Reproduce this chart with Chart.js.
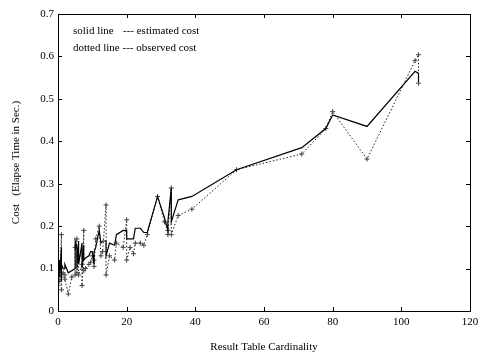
<!DOCTYPE html>
<html>
<head>
<meta charset="utf-8">
<script src="https://cdn.jsdelivr.net/npm/chart.js@4/dist/chart.umd.min.js"></script>
<style>
  body { margin: 0; background: #fff; }
  canvas { display: block; }
</style>
</head>
<body>
<canvas id="chart" width="478" height="356"></canvas>
<script>
// result table cardinality (x), estimated and observed cost (sec.)
const cardinality = [0, 0, 0, 0, 0.5, 0.5, 1, 1, 1, 1.5, 2, 2, 3, 4, 5, 5, 5.5, 5.5, 6, 6,
  7, 7, 7.5, 7.5, 8, 9, 9.5, 10, 10.5, 10.5, 11, 12, 12.5, 13, 14, 14, 15, 16.5, 17, 19,
  20, 20, 21, 22, 22.5, 24, 25, 26, 29, 31, 32, 32, 33, 33, 35, 39, 52, 71, 78, 80,
  90, 104, 105, 105];
const estimated = [0.07, 0.08, 0.10, 0.09, 0.12, 0.08, 0.15, 0.07, 0.11, 0.10, 0.10, 0.11, 0.09, 0.095, 0.10, 0.165, 0.15, 0.10, 0.165, 0.11,
  0.16, 0.10, 0.155, 0.12, 0.125, 0.13, 0.14, 0.14, 0.11, 0.14, 0.15, 0.19, 0.16, 0.165, 0.165, 0.13, 0.16, 0.155, 0.18, 0.19,
  0.19, 0.17, 0.17, 0.17, 0.195, 0.195, 0.185, 0.185, 0.27, 0.22, 0.19, 0.21, 0.29, 0.21, 0.262, 0.27, 0.333, 0.385, 0.43, 0.462,
  0.435, 0.565, 0.56, 0.54];
const observed = [0.06, 0.09, 0.075, 0.11, 0.10, 0.07, 0.18, 0.05, 0.08, 0.09, 0.085, 0.075, 0.04, 0.08, 0.085, 0.15, 0.17, 0.09, 0.13, 0.085,
  0.11, 0.06, 0.19, 0.095, 0.10, 0.11, 0.115, 0.13, 0.12, 0.105, 0.17, 0.20, 0.13, 0.14, 0.25, 0.085, 0.13, 0.12, 0.16, 0.15,
  0.215, 0.12, 0.15, 0.135, 0.16, 0.16, 0.155, 0.18, 0.27, 0.21, 0.19, 0.18, 0.29, 0.18, 0.225, 0.24, 0.333, 0.37, 0.43, 0.47,
  0.358, 0.59, 0.604, 0.537];
const xTicks = [0, 20, 40, 60, 80, 100, 120];
const yTicks = [0, 0.1, 0.2, 0.3, 0.4, 0.5, 0.6, 0.7];

Chart.defaults.font.family = '"Liberation Serif", "DejaVu Serif", serif';
Chart.defaults.font.size = 11;
Chart.defaults.color = '#000';

// box round the plot with gnuplot style inward ticks, plus the text key
const framePlugin = {
  id: 'frame',
  afterDraw(chart) {
    const ctx = chart.ctx;
    const a = chart.chartArea;
    const xs = chart.scales.x, ys = chart.scales.y;
    ctx.save();
    ctx.strokeStyle = '#000';
    ctx.lineWidth = 1;
    ctx.strokeRect(a.left + 0.5, a.top + 0.5, a.right - a.left, a.bottom - a.top);
    ctx.beginPath();
    xTicks.forEach(v => {
      const px = Math.round(xs.getPixelForValue(v)) + 0.5;
      ctx.moveTo(px, a.bottom); ctx.lineTo(px, a.bottom - 4);
      ctx.moveTo(px, a.top); ctx.lineTo(px, a.top + 4);
    });
    yTicks.forEach(v => {
      const py = Math.round(ys.getPixelForValue(v)) + 0.5;
      ctx.moveTo(a.left, py); ctx.lineTo(a.left + 4, py);
      ctx.moveTo(a.right, py); ctx.lineTo(a.right - 4, py);
    });
    ctx.stroke();
    ctx.fillStyle = '#000';
    ctx.font = '11px "Liberation Serif", serif';
    ctx.textBaseline = 'middle';
    ctx.fillText('solid line', a.left + 15, a.top + 17);
    ctx.fillText('--- estimated cost', a.left + 65, a.top + 17);
    ctx.fillText('dotted line --- observed cost', a.left + 15, a.top + 34);
    ctx.restore();
  }
};

new Chart(document.getElementById('chart'), {
  type: 'line',
  data: {
    datasets: [
      {
        label: 'estimated cost',
        data: cardinality.map((x, i) => ({ x: x, y: estimated[i] })),
        borderColor: '#000',
        borderWidth: 1.2,
        pointRadius: 0,
        tension: 0
      },
      {
        label: 'observed cost',
        data: cardinality.map((x, i) => ({ x: x, y: observed[i] })),
        borderColor: '#222',
        borderWidth: 1,
        borderDash: [1.5, 2],
        pointStyle: 'cross',
        pointRadius: 2.5,
        pointBorderColor: '#444',
        pointBorderWidth: 1,
        tension: 0
      }
    ]
  },
  options: {
    responsive: false,
    animation: false,
    devicePixelRatio: 1,
    layout: { padding: { left: 0, top: 14, right: 8, bottom: 0 } },
    plugins: { legend: { display: false }, tooltip: { enabled: false } },
    scales: {
      x: {
        type: 'linear',
        min: 0, max: 120,
        afterBuildTicks: s => { s.ticks = xTicks.map(v => ({ value: v })); },
        afterFit: s => { s.height = 45; s.paddingLeft = 0; s.paddingRight = 0; },
        grid: { display: false, drawTicks: false },
        border: { display: false },
        ticks: { padding: 5, maxRotation: 0 },
        title: { display: true, text: 'Result Table Cardinality', padding: { top: 0, bottom: 2 } }
      },
      y: {
        min: 0, max: 0.7,
        afterBuildTicks: s => { s.ticks = yTicks.map(v => ({ value: v })); },
        afterFit: s => { s.width = 58; s.paddingTop = 0; s.paddingBottom = 0; },
        grid: { display: false, drawTicks: false },
        border: { display: false },
        ticks: { padding: 4, callback: v => String(Math.round(v * 10) / 10) },
        title: { display: true, text: 'Cost   (Elapse Time in Sec.)', padding: { top: 10, bottom: 0 } }
      }
    }
  },
  plugins: [framePlugin]
});
</script>
</body>
</html>
